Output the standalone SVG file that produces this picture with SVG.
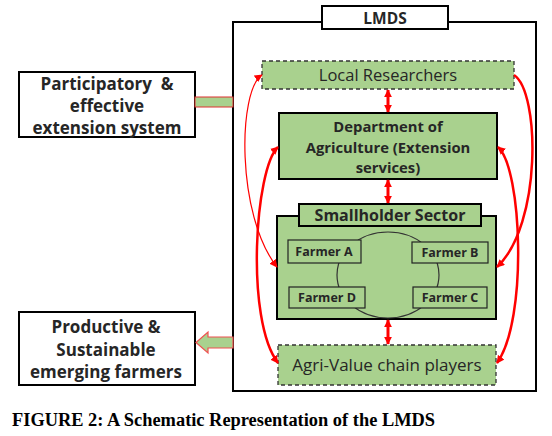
<svg xmlns="http://www.w3.org/2000/svg" width="552" height="436" viewBox="0 0 552 436">
<defs>
<style>
.g{fill:#a9d18e}
.solid{stroke:#000;stroke-width:2}
.dash{stroke:#333;stroke-width:1.3;stroke-dasharray:4 3}
.t{font-family:"Open Sans","Noto Sans",sans-serif;fill:#262626;text-anchor:middle}
.b{font-weight:bold}
.red{fill:none;stroke:#ff0000}
</style>
<marker id="ah" viewBox="0 0 10 10" refX="9" refY="5" markerWidth="8" markerHeight="8" markerUnits="userSpaceOnUse" orient="auto-start-reverse">
<path d="M0,0 L10,5 L0,10 z" fill="#ff0000"/>
</marker>
<marker id="vh" viewBox="0 0 10 10" refX="9" refY="5" markerWidth="8" markerHeight="10" markerUnits="userSpaceOnUse" orient="auto-start-reverse">
<path d="M0,0 L10,5 L0,10 z" fill="#ff0000"/>
</marker>
</defs>
<rect width="552" height="436" fill="#fff"/>

<g id="lmds-frame">
<rect x="233" y="22" width="303" height="369" fill="none" class="solid"/>
<rect x="322" y="6" width="126" height="23" fill="#fff" class="solid"/>
<text x="385" y="23.5" class="t b" font-size="15.5" fill="#000">LMDS</text>
</g>

<g id="local-researchers">
<rect x="262" y="61" width="252" height="28" class="g dash"/>
<text x="388" y="81" class="t" font-size="16.5">Local Researchers</text>
</g>

<g id="dept-agriculture">
<rect x="279" y="113" width="218" height="66" class="g solid"/>
<text x="388" y="132" class="t b" font-size="14.8">Department of</text>
<text x="388" y="152.5" class="t b" font-size="14.8">Agriculture (Extension</text>
<text x="388" y="173" class="t b" font-size="14.8">services)</text>
</g>

<g id="smallholder-sector">
<rect x="277" y="216" width="219" height="103" class="g solid"/>
<rect x="299" y="204" width="182" height="22" class="g solid"/>
<text x="390" y="221" class="t b" font-size="16">Smallholder Sector</text>
<ellipse cx="388" cy="275" rx="51" ry="43" fill="none" stroke="#333" stroke-width="1.2"/>
</g>

<g id="farmer-a">
<rect x="288" y="240" width="73" height="23" class="g" stroke="#222" stroke-width="1.2"/>
<text x="324" y="256" class="t b" font-size="12.5">Farmer A</text>
</g>
<g id="farmer-b">
<rect x="412" y="242" width="76" height="21" class="g" stroke="#222" stroke-width="1.2"/>
<text x="450" y="257" class="t b" font-size="12.5">Farmer B</text>
</g>
<g id="farmer-d">
<rect x="289" y="287" width="76" height="21" class="g" stroke="#222" stroke-width="1.2"/>
<text x="327" y="302" class="t b" font-size="12.5">Farmer D</text>
</g>
<g id="farmer-c">
<rect x="413" y="287" width="74" height="21" class="g" stroke="#222" stroke-width="1.2"/>
<text x="450" y="302" class="t b" font-size="12.5">Farmer C</text>
</g>

<g id="agri-value">
<rect x="278" y="345" width="218" height="40" class="g dash"/>
<text x="387" y="371" class="t" font-size="17">Agri-Value chain players</text>
</g>

<g id="participatory">
<rect x="19" y="72" width="176" height="65" fill="#fff" class="solid"/>
<text x="107" y="90" class="t b" font-size="17" xml:space="preserve">Participatory  &amp;</text>
<text x="107" y="112" class="t b" font-size="17">effective</text>
<text x="107" y="134" class="t b" font-size="17">extension system</text>
</g>

<g id="productive">
<rect x="19" y="312" width="176" height="73" fill="#fff" class="solid"/>
<text x="106" y="333" class="t b" font-size="17">Productive &amp;</text>
<text x="106" y="356" class="t b" font-size="17">Sustainable</text>
<text x="106" y="378" class="t b" font-size="17">emerging farmers</text>
</g>

<g id="connectors">
<rect x="195" y="97" width="38" height="10" class="g" stroke="#e03030" stroke-width="1"/>
<path d="M233,337 L208,337 L208,332 L196,342.5 L208,353 L208,348 L233,348 z" class="g" stroke="#f05050" stroke-width="1.2"/>
<line x1="388" y1="90" x2="388" y2="112" class="red" stroke-width="3" marker-start="url(#vh)" marker-end="url(#vh)"/>
<line x1="388" y1="180" x2="388" y2="203" class="red" stroke-width="3" marker-start="url(#vh)" marker-end="url(#vh)"/>
<line x1="388" y1="320" x2="388" y2="344" class="red" stroke-width="3" marker-start="url(#vh)" marker-end="url(#vh)"/>
<path d="M262,75 C238,90 236,215 277,267" class="red" stroke-width="1.2" marker-start="url(#ah)" marker-end="url(#ah)"/>
<path d="M278,147 C255,168 245,320 278,363" class="red" stroke-width="2.5" marker-start="url(#ah)" marker-end="url(#ah)"/>
<path d="M514,75 C540,92 542,225 497,267" class="red" stroke-width="2.5" marker-end="url(#ah)"/>
<path d="M498,147 C522,168 528,320 497,363" class="red" stroke-width="2.5" marker-start="url(#ah)" marker-end="url(#ah)"/>
</g>

<text x="12" y="426" font-family="'Liberation Serif',serif" font-weight="bold" font-size="18" textLength="423" lengthAdjust="spacingAndGlyphs" fill="#000">FIGURE 2: A Schematic Representation of the LMDS</text>
</svg>
